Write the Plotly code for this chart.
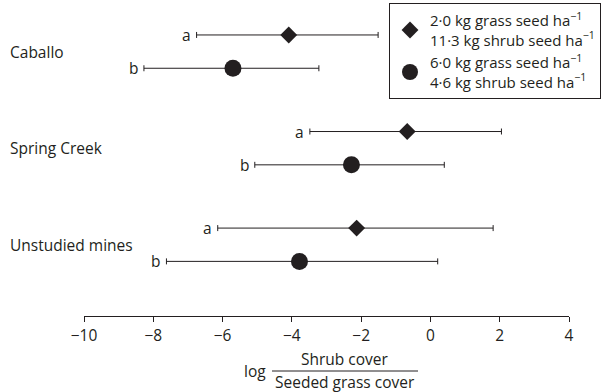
import plotly.graph_objects as go

# ---- data ----
sites = ["Caballo", "Spring Creek", "Unstudied mines"]
diamond_mean = [-4.09, -0.67, -2.13]
diamond_lo = [-6.75, -3.48, -6.14]
diamond_hi = [-1.51, 2.05, 1.81]
circle_mean = [-5.70, -2.28, -3.78]
circle_lo = [-8.27, -5.07, -7.62]
circle_hi = [-3.22, 0.40, 0.21]
letters_diamond = ["a", "a", "a"]
letters_circle = ["b", "b", "b"]
legend_diamond = "2·0 kg grass seed ha<sup>−1</sup><br>11·3 kg shrub seed ha<sup>−1</sup>"
legend_circle = "6·0 kg grass seed ha<sup>−1</sup><br>4·6 kg shrub seed ha<sup>−1</sup>"
x_ticks = [-10, -8, -6, -4, -2, 0, 2, 4]

# ---- layout helpers ----
W, H = 603, 392
L, R, T, B = 84, 34, 0, 76
PW, PH = W - L - R, H - T - B
GROUP_STEP = 2.9
FONT = "Open Sans"
INK = "#231f20"
FS = 15.5


def px(xp):
    return (xp - L) / PW


def py(yp):
    return (H - B - yp) / PH


y_d = [i * GROUP_STEP for i in range(len(sites))]
y_c = [i * GROUP_STEP + 1 for i in range(len(sites))]

fig = go.Figure()
fig.add_trace(go.Scatter(
    x=diamond_mean, y=y_d, mode="markers", name=legend_diamond,
    marker=dict(symbol="diamond", size=13, color=INK),
    error_x=dict(type="data", symmetric=False,
                 array=[h - m for h, m in zip(diamond_hi, diamond_mean)],
                 arrayminus=[m - l for m, l in zip(diamond_mean, diamond_lo)],
                 color=INK, thickness=1, width=3),
))
fig.add_trace(go.Scatter(
    x=circle_mean, y=y_c, mode="markers", name=legend_circle,
    marker=dict(symbol="circle", size=17, color=INK),
    error_x=dict(type="data", symmetric=False,
                 array=[h - m for h, m in zip(circle_hi, circle_mean)],
                 arrayminus=[m - l for m, l in zip(circle_mean, circle_lo)],
                 color=INK, thickness=1, width=3),
))

ann = []
for i, s in enumerate(sites):
    ann.append(dict(x=px(8), xref="paper", y=(y_d[i] + y_c[i]) / 2, yref="y",
                    text=s, showarrow=False, xanchor="left", yanchor="middle",
                    font=dict(family=FONT, size=FS, color=INK)))
    ann.append(dict(x=diamond_lo[i], xref="x", y=y_d[i], yref="y",
                    text=letters_diamond[i], showarrow=False, xanchor="right",
                    yanchor="middle", xshift=-4,
                    font=dict(family=FONT, size=FS, color=INK)))
    ann.append(dict(x=circle_lo[i], xref="x", y=y_c[i], yref="y",
                    text=letters_circle[i], showarrow=False, xanchor="right",
                    yanchor="middle", xshift=-4,
                    font=dict(family=FONT, size=FS, color=INK)))

# axis title as a fraction
ann.append(dict(x=px(268), xref="paper", y=py(371), yref="paper", text="log",
                showarrow=False, xanchor="right", yanchor="middle",
                font=dict(family=FONT, size=FS, color=INK)))
ann.append(dict(x=px(345), xref="paper", y=py(359), yref="paper", text="Shrub cover",
                showarrow=False, xanchor="center", yanchor="middle",
                font=dict(family=FONT, size=FS, color=INK)))
ann.append(dict(x=px(345), xref="paper", y=py(382), yref="paper", text="Seeded grass cover",
                showarrow=False, xanchor="center", yanchor="middle",
                font=dict(family=FONT, size=FS, color=INK)))

shapes = [dict(type="line", xref="paper", yref="paper",
               x0=px(272), x1=px(418), y0=py(371), y1=py(371),
               line=dict(color=INK, width=1))]

fig.update_layout(
    width=W, height=H,
    margin=dict(l=L, r=R, t=T, b=B),
    plot_bgcolor="white", paper_bgcolor="white",
    font=dict(family=FONT, size=FS, color=INK),
    showlegend=True,
    legend=dict(x=px(601), xanchor="right", y=py(3), yanchor="top",
                bordercolor=INK, borderwidth=1, bgcolor="white",
                font=dict(family=FONT, size=15, color=INK)),
    xaxis=dict(range=[-10, 4], tickvals=x_ticks, showgrid=False, zeroline=False,
               showline=True, linecolor=INK, linewidth=1, ticks="outside",
               ticklen=5, tickcolor=INK, tickfont=dict(family=FONT, size=FS, color=INK)),
    yaxis=dict(range=[8.44, -1.05], showgrid=False, zeroline=False, showline=False,
               showticklabels=False, ticks=""),
    annotations=ann, shapes=shapes,
)

fig.write_html("out.html")
